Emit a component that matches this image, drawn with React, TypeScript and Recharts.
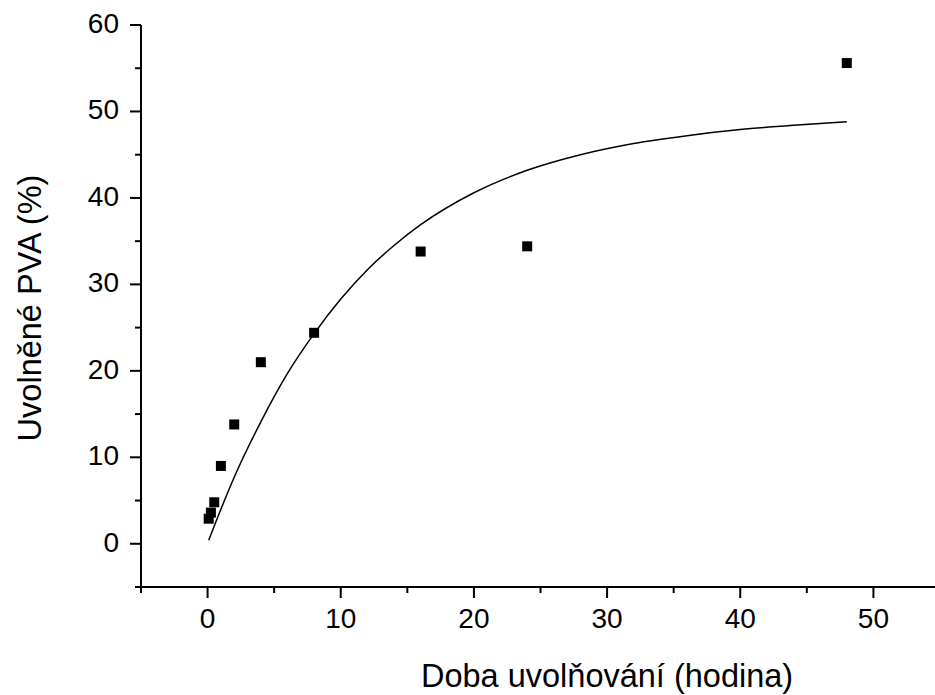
import React from 'react';
import { ComposedChart, Line, Scatter, XAxis, YAxis, Label } from 'recharts';

// measured release points
const releaseTime = [0.083, 0.25, 0.5, 1, 2, 4, 8, 16, 24, 48];
const releasedPva = [2.9, 3.6, 4.8, 9.0, 13.8, 21.0, 24.4, 33.8, 34.4, 55.6];

// fitted curve
const fitTime = [0.083, 1, 2, 4, 6, 8, 10, 12, 14, 16, 20, 24, 28, 32, 36, 40, 44, 48];
const fitValue = [0.4, 4.0, 7.7, 14.1, 19.7, 24.3, 28.3, 31.7, 34.5, 36.9, 40.6, 43.2, 45.0, 46.3, 47.2, 47.9, 48.4, 48.8];

const xTicks = [-5, 0, 5, 10, 15, 20, 25, 30, 35, 40, 45, 50, 55];
const yTicks = [-5, 0, 5, 10, 15, 20, 25, 30, 35, 40, 45, 50, 55, 60];

const FONT = '"Liberation Sans", Arial, sans-serif';

const pointData = releaseTime.map((t, i) => ({ x: t, y: releasedPva[i] }));
const fitData = fitTime.map((t, i) => ({ x: t, y: fitValue[i] }));

const XTick = ({ x, y, payload }: any) => {
  const major = payload.value % 10 === 0;
  return (
    <g>
      <line x1={x} y1={y} x2={x} y2={y + (major ? 11 : 6)} stroke="#000" strokeWidth={2} />
      {major && (
        <text x={x} y={y + 41} textAnchor="middle" fontSize={28} fontFamily={FONT} fill="#000">
          {payload.value}
        </text>
      )}
    </g>
  );
};

const YTick = ({ x, y, payload }: any) => {
  const major = payload.value % 10 === 0;
  return (
    <g>
      <line x1={x} y1={y} x2={x - (major ? 11 : 6)} y2={y} stroke="#000" strokeWidth={2} />
      {major && (
        <text x={x - 22} y={y + 8} textAnchor="end" fontSize={28} fontFamily={FONT} fill="#000">
          {payload.value}
        </text>
      )}
    </g>
  );
};

const XTitle = ({ viewBox }: any) => (
  <text
    x={viewBox.x + viewBox.width * (35 / 60)}
    y={viewBox.y + 100}
    textAnchor="middle"
    fontSize={32.5}
    fontFamily={FONT}
    fill="#000"
  >
    Doba uvolňování (hodina)
  </text>
);

const YTitle = ({ viewBox }: any) => {
  const cx = 41;
  const cy = viewBox.y + viewBox.height / 2 + 2;
  return (
    <text
      x={cx}
      y={cy}
      transform={`rotate(-90, ${cx}, ${cy})`}
      textAnchor="middle"
      fontSize={32.5}
      fontFamily={FONT}
      fill="#000"
    >
      Uvolněné PVA (%)
    </text>
  );
};

const SquareDot = ({ cx, cy }: any) => (
  <rect x={cx - 5} y={cy - 5} width={10} height={10} fill="#000" />
);

export default function App() {
  return (
    <div style={{ position: 'absolute', left: 0, top: 0, width: 935, height: 695, overflow: 'hidden', background: '#fff' }}>
      <ComposedChart
        width={945}
        height={695}
        margin={{ top: 25, right: 5, bottom: 48, left: 0 }}
      >
        <XAxis
          type="number"
          dataKey="x"
          domain={[-5, 55]}
          ticks={xTicks}
          interval={0}
          height={60}
          tickSize={0}
          tickMargin={0}
          tickLine={false}
          tick={<XTick />}
          axisLine={{ stroke: '#000', strokeWidth: 2 }}
          allowDataOverflow
        >
          <Label content={<XTitle />} />
        </XAxis>
        <YAxis
          type="number"
          dataKey="y"
          domain={[-5, 60]}
          ticks={yTicks}
          interval={0}
          width={141}
          tickSize={0}
          tickMargin={0}
          tickLine={false}
          tick={<YTick />}
          axisLine={{ stroke: '#000', strokeWidth: 2 }}
          allowDataOverflow
        >
          <Label content={<YTitle />} />
        </YAxis>
        <Line
          data={fitData}
          dataKey="y"
          type="monotone"
          stroke="#000"
          strokeWidth={1.5}
          dot={false}
          activeDot={false}
          isAnimationActive={false}
        />
        <Scatter
          data={pointData}
          dataKey="y"
          shape={<SquareDot />}
          isAnimationActive={false}
        />
      </ComposedChart>
    </div>
  );
}
